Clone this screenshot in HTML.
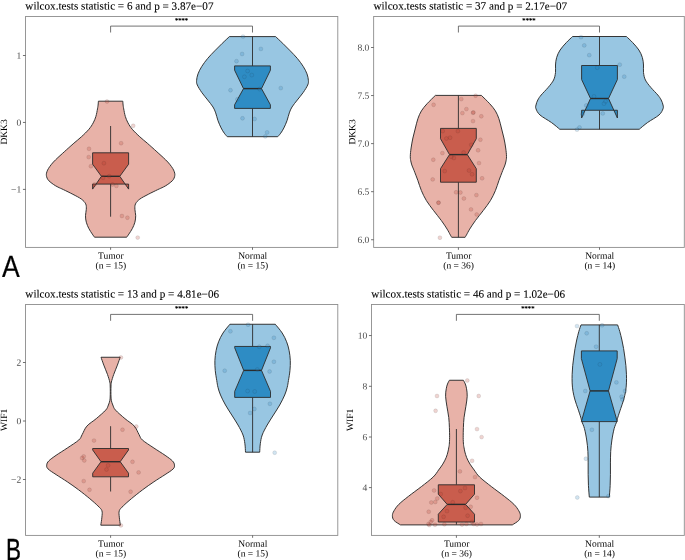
<!DOCTYPE html>
<html lang="en">
<head>
<meta charset="utf-8">
<title>Wilcoxon violin plots: DKK3 and WIF1, Tumor vs Normal</title>
<style>
html,body{margin:0;padding:0;background:#ffffff;}
body{width:685px;height:560px;overflow:hidden;}
svg{display:block;}
svg text{font-family:"Liberation Serif","DejaVu Serif",serif;}
svg text.pl{font-family:"Liberation Sans","DejaVu Sans",sans-serif;text-rendering:geometricPrecision;}
</style>
</head>
<body>
<svg width="685" height="560" viewBox="0 0 685 560">
<defs><filter id="ga" x="0" y="0" width="685" height="560" filterUnits="userSpaceOnUse"><feOffset dx="0" dy="0"/></filter></defs>
<rect x="0" y="0" width="685" height="560" fill="#ffffff"/>
<g filter="url(#ga)">
<text transform="rotate(0.03 25.35 9.55)" x="25.35" y="9.55" font-size="11.15" fill="#000" stroke="#000" stroke-width="0.1">wilcox.tests statistic = 6 and p = 3.87e−07</text>
<rect x="25.55" y="16.45" width="312.25" height="230.95" fill="#fff" stroke="#8c8c8c" stroke-width="0.9"/>
<path d="M22.95 55.5H25.55" stroke="#4d4d4d" stroke-width="0.8"/>
<text transform="rotate(0.03 21.25 58.7)" x="21.25" y="58.7" font-size="9.55" text-anchor="end" fill="#4d4d4d">1</text>
<path d="M22.95 122.45H25.55" stroke="#4d4d4d" stroke-width="0.8"/>
<text transform="rotate(0.03 21.25 125.65)" x="21.25" y="125.65" font-size="9.55" text-anchor="end" fill="#4d4d4d">0</text>
<path d="M22.95 189.4H25.55" stroke="#4d4d4d" stroke-width="0.8"/>
<text transform="rotate(0.03 21.25 192.6)" x="21.25" y="192.6" font-size="9.55" text-anchor="end" fill="#4d4d4d">−1</text>
<path d="M110.6 247.4V249.8" stroke="#4d4d4d" stroke-width="0.8"/>
<text transform="rotate(0.03 110.85 258.7)" x="110.85" y="258.7" font-size="9.5" text-anchor="middle" fill="#000">Tumor</text>
<text transform="rotate(0.03 110.85 268.5)" x="110.85" y="268.5" font-size="9.5" text-anchor="middle" fill="#000">(n = 15)</text>
<path d="M252.5 247.4V249.8" stroke="#4d4d4d" stroke-width="0.8"/>
<text transform="rotate(0.03 252.75 258.7)" x="252.75" y="258.7" font-size="9.5" text-anchor="middle" fill="#000">Normal</text>
<text transform="rotate(0.03 252.75 268.5)" x="252.75" y="268.5" font-size="9.5" text-anchor="middle" fill="#000">(n = 15)</text>
<text transform="translate(7.05 131.93) rotate(-89.97)" font-size="9.5" text-anchor="middle" fill="#000">DKK3</text>
<path d="M110.6 32.5V26.1H252.5V32.5" fill="none" stroke="#444" stroke-width="0.75"/>
<text transform="rotate(0.03 181.55 22.6)" x="181.55" y="22.6" font-size="6.6" text-anchor="middle" fill="#000" stroke="#000" stroke-width="0.25">****</text>
<path d="M98.4 101.2C98.35 101.83 98.25 103.72 98.1 105C97.95 106.28 97.87 107 97.5 108.9C97.13 110.8 96.62 114.07 95.9 116.4C95.18 118.73 94.37 120.75 93.2 122.9C92.03 125.05 90.87 126.98 88.9 129.3C86.93 131.62 83.9 134.48 81.4 136.8C78.9 139.12 76.37 141.05 73.9 143.2C71.43 145.35 68.53 147.97 66.6 149.7C64.67 151.43 63.75 152.28 62.3 153.6C60.85 154.92 59.38 156.19 57.9 157.6C56.42 159.01 54.75 160.57 53.4 162.05C52.05 163.53 50.77 165.16 49.8 166.5C48.83 167.84 48.15 168.98 47.6 170.1C47.05 171.22 46.7 172.32 46.5 173.2C46.3 174.08 46.3 174.58 46.4 175.4C46.5 176.22 46.68 177.2 47.1 178.1C47.52 179 47.85 179.75 48.9 180.8C49.95 181.85 51.9 183.36 53.4 184.4C54.9 185.44 56.2 186.17 57.9 187.05C59.6 187.93 61.1 188.49 63.6 189.7C66.1 190.91 69.93 192.73 72.9 194.3C75.87 195.87 79.27 197.5 81.4 199.1C83.53 200.7 84.88 202.2 85.7 203.9C86.52 205.6 86.33 207.33 86.3 209.3C86.27 211.27 85.5 213.55 85.5 215.7C85.5 217.85 85.73 220.05 86.3 222.2C86.87 224.35 87.92 226.65 88.9 228.6C89.88 230.55 91.27 232.47 92.2 233.9C93.13 235.33 94.12 236.65 94.5 237.2L126.7 237.2C127.08 236.65 128.07 235.33 129 233.9C129.93 232.47 131.32 230.55 132.3 228.6C133.28 226.65 134.33 224.35 134.9 222.2C135.47 220.05 135.7 217.85 135.7 215.7C135.7 213.55 134.93 211.27 134.9 209.3C134.87 207.33 134.68 205.6 135.5 203.9C136.32 202.2 137.67 200.7 139.8 199.1C141.93 197.5 145.33 195.87 148.3 194.3C151.27 192.73 155.1 190.91 157.6 189.7C160.1 188.49 161.6 187.93 163.3 187.05C165 186.17 166.3 185.44 167.8 184.4C169.3 183.36 171.25 181.85 172.3 180.8C173.35 179.75 173.68 179 174.1 178.1C174.52 177.2 174.7 176.22 174.8 175.4C174.9 174.58 174.9 174.08 174.7 173.2C174.5 172.32 174.15 171.22 173.6 170.1C173.05 168.98 172.37 167.84 171.4 166.5C170.43 165.16 169.15 163.53 167.8 162.05C166.45 160.57 164.78 159.01 163.3 157.6C161.82 156.19 160.35 154.92 158.9 153.6C157.45 152.28 156.53 151.43 154.6 149.7C152.67 147.97 149.77 145.35 147.3 143.2C144.83 141.05 142.3 139.12 139.8 136.8C137.3 134.48 134.27 131.62 132.3 129.3C130.33 126.98 129.17 125.05 128 122.9C126.83 120.75 126.02 118.73 125.3 116.4C124.58 114.07 124.07 110.8 123.7 108.9C123.33 107 123.25 106.28 123.1 105C122.95 103.72 122.85 101.83 122.8 101.2Z" fill="#E8B2A8" stroke="#2b2b2b" stroke-width="0.95" stroke-linejoin="miter" stroke-miterlimit="3"/>
<path d="M110.6 126V152.8M110.6 184.1V216.7" stroke="#2b2b2b" stroke-width="0.9" fill="none"/>
<path d="M92.6 152.8L92.6 164.2L101.4 176.3L92.6 189.1L92.6 184.1L128.6 184.1L128.6 189.1L119.8 176.3L128.6 164.2L128.6 152.8Z" fill="#C95D4D" stroke="#2b2b2b" stroke-width="0.9" stroke-linejoin="miter"/>
<path d="M101.4 176.3H119.8" stroke="#2b2b2b" stroke-width="1.4" fill="none"/>
<g fill="#B83C2E" fill-opacity="0.22" stroke="#1a1a1a" stroke-opacity="0.17" stroke-width="0.6">
<circle cx="107" cy="101.5" r="1.95"/>
<circle cx="133.2" cy="125.8" r="1.95"/>
<circle cx="121.1" cy="143.2" r="1.95"/>
<circle cx="89" cy="148.8" r="1.95"/>
<circle cx="88.7" cy="157.1" r="1.95"/>
<circle cx="103.9" cy="163.2" r="1.95"/>
<circle cx="90.9" cy="166.2" r="1.95"/>
<circle cx="103.1" cy="177.8" r="1.95"/>
<circle cx="109.2" cy="176.2" r="1.95"/>
<circle cx="94.5" cy="184.5" r="1.95"/>
<circle cx="112.5" cy="184.5" r="1.95"/>
<circle cx="116.4" cy="185.9" r="1.95"/>
<circle cx="121.9" cy="216" r="1.95"/>
<circle cx="127.4" cy="217.7" r="1.95"/>
<circle cx="137.7" cy="237.6" r="1.95"/>
</g>
<path d="M229.4 36.6C228.2 37.73 224.65 41.02 222.2 43.4C219.75 45.78 217.12 48.4 214.7 50.9C212.28 53.4 209.85 55.82 207.7 58.4C205.55 60.98 203.42 63.82 201.8 66.4C200.18 68.98 198.87 71.57 198 73.9C197.13 76.23 196.72 78.55 196.6 80.4C196.48 82.25 196.43 82.98 197.3 85C198.17 87.02 200.07 90 201.8 92.5C203.53 95 205.83 97.58 207.7 100C209.57 102.42 211.67 104.85 213 107C214.33 109.15 214.88 110.67 215.7 112.9C216.52 115.13 217 117.9 217.9 120.4C218.8 122.9 220.03 125.77 221.1 127.9C222.17 130.03 223.27 131.73 224.3 133.2C225.33 134.67 226.8 136.12 227.3 136.7L277.7 136.7C278.2 136.12 279.67 134.67 280.7 133.2C281.73 131.73 282.83 130.03 283.9 127.9C284.97 125.77 286.2 122.9 287.1 120.4C288 117.9 288.48 115.13 289.3 112.9C290.12 110.67 290.67 109.15 292 107C293.33 104.85 295.43 102.42 297.3 100C299.17 97.58 301.47 95 303.2 92.5C304.93 90 306.83 87.02 307.7 85C308.57 82.98 308.52 82.25 308.4 80.4C308.28 78.55 307.87 76.23 307 73.9C306.13 71.57 304.82 68.98 303.2 66.4C301.58 63.82 299.45 60.98 297.3 58.4C295.15 55.82 292.72 53.4 290.3 50.9C287.88 48.4 285.25 45.78 282.8 43.4C280.35 41.02 276.8 37.73 275.6 36.6Z" fill="#98C6E2" stroke="#2b2b2b" stroke-width="0.95" stroke-linejoin="miter" stroke-miterlimit="3"/>
<path d="M252.5 36.6V65.9M252.5 108.4V136.7" stroke="#2b2b2b" stroke-width="0.9" fill="none"/>
<path d="M234.6 65.9L234.6 70.2L243.5 88.6L234.6 104.8L234.6 108.4L270.4 108.4L270.4 104.8L261.5 88.6L270.4 70.2L270.4 65.9Z" fill="#2E8CC4" stroke="#2b2b2b" stroke-width="0.9" stroke-linejoin="miter"/>
<path d="M243.5 88.6H261.5" stroke="#2b2b2b" stroke-width="1.4" fill="none"/>
<g fill="#2E86BE" fill-opacity="0.22" stroke="#1a1a1a" stroke-opacity="0.17" stroke-width="0.6">
<circle cx="243" cy="36.6" r="1.95"/>
<circle cx="260.9" cy="48.9" r="1.95"/>
<circle cx="242.1" cy="54" r="1.95"/>
<circle cx="236.5" cy="61.2" r="1.95"/>
<circle cx="247.6" cy="71" r="1.95"/>
<circle cx="251.8" cy="75.1" r="1.95"/>
<circle cx="244.4" cy="76.8" r="1.95"/>
<circle cx="230.5" cy="90.2" r="1.95"/>
<circle cx="280.8" cy="88.1" r="1.95"/>
<circle cx="259.7" cy="89.1" r="1.95"/>
<circle cx="237.4" cy="99.3" r="1.95"/>
<circle cx="242.5" cy="118.3" r="1.95"/>
<circle cx="254.6" cy="119" r="1.95"/>
<circle cx="267.1" cy="132.4" r="1.95"/>
<circle cx="265.3" cy="136.4" r="1.95"/>
</g>
<text transform="rotate(0.03 373.45 9.55)" x="373.45" y="9.55" font-size="11.15" fill="#000" stroke="#000" stroke-width="0.1">wilcox.tests statistic = 37 and p = 2.17e−07</text>
<rect x="373.65" y="16.45" width="310.65" height="230.95" fill="#fff" stroke="#8c8c8c" stroke-width="0.9"/>
<path d="M371.05 47.5H373.65" stroke="#4d4d4d" stroke-width="0.8"/>
<text transform="rotate(0.03 369.35 50.7)" x="369.35" y="50.7" font-size="9.55" text-anchor="end" fill="#4d4d4d">8.0</text>
<path d="M371.05 95.56H373.65" stroke="#4d4d4d" stroke-width="0.8"/>
<text transform="rotate(0.03 369.35 98.76)" x="369.35" y="98.76" font-size="9.55" text-anchor="end" fill="#4d4d4d">7.5</text>
<path d="M371.05 143.62H373.65" stroke="#4d4d4d" stroke-width="0.8"/>
<text transform="rotate(0.03 369.35 146.82)" x="369.35" y="146.82" font-size="9.55" text-anchor="end" fill="#4d4d4d">7.0</text>
<path d="M371.05 191.68H373.65" stroke="#4d4d4d" stroke-width="0.8"/>
<text transform="rotate(0.03 369.35 194.88)" x="369.35" y="194.88" font-size="9.55" text-anchor="end" fill="#4d4d4d">6.5</text>
<path d="M371.05 239.74H373.65" stroke="#4d4d4d" stroke-width="0.8"/>
<text transform="rotate(0.03 369.35 242.94)" x="369.35" y="242.94" font-size="9.55" text-anchor="end" fill="#4d4d4d">6.0</text>
<path d="M458.4 247.4V249.8" stroke="#4d4d4d" stroke-width="0.8"/>
<text transform="rotate(0.03 458.65 258.7)" x="458.65" y="258.7" font-size="9.5" text-anchor="middle" fill="#000">Tumor</text>
<text transform="rotate(0.03 458.65 268.5)" x="458.65" y="268.5" font-size="9.5" text-anchor="middle" fill="#000">(n = 36)</text>
<path d="M599.5 247.4V249.8" stroke="#4d4d4d" stroke-width="0.8"/>
<text transform="rotate(0.03 599.75 258.7)" x="599.75" y="258.7" font-size="9.5" text-anchor="middle" fill="#000">Normal</text>
<text transform="rotate(0.03 599.75 268.5)" x="599.75" y="268.5" font-size="9.5" text-anchor="middle" fill="#000">(n = 14)</text>
<text transform="translate(355.15 131.93) rotate(-89.97)" font-size="9.5" text-anchor="middle" fill="#000">DKK3</text>
<path d="M458.4 32.5V26.1H599.5V32.5" fill="none" stroke="#444" stroke-width="0.75"/>
<text transform="rotate(0.03 528.95 22.6)" x="528.95" y="22.6" font-size="6.6" text-anchor="middle" fill="#000" stroke="#000" stroke-width="0.25">****</text>
<path d="M435.4 95.4C434.02 96.78 429.43 101.12 427.1 103.7C424.77 106.28 422.93 108.4 421.4 110.9C419.87 113.4 418.9 115.85 417.9 118.7C416.9 121.55 416.23 124.78 415.4 128C414.57 131.22 413.62 134.67 412.9 138C412.18 141.33 411.53 144.9 411.1 148C410.67 151.1 410.32 154.27 410.3 156.6C410.28 158.93 410.68 160.43 411 162C411.32 163.57 411.68 164.57 412.2 166C412.72 167.43 413.15 168.17 414.1 170.6C415.05 173.03 416.68 177.27 417.9 180.6C419.12 183.93 419.98 187.27 421.4 190.6C422.82 193.93 424.37 197.27 426.4 200.6C428.43 203.93 431.1 207.27 433.6 210.6C436.1 213.93 439.15 217.52 441.4 220.6C443.65 223.68 445.62 226.72 447.1 229.1C448.58 231.48 449.53 233.53 450.3 234.9C451.07 236.27 451.47 236.9 451.7 237.3L465.1 237.3C465.33 236.9 465.73 236.27 466.5 234.9C467.27 233.53 468.22 231.48 469.7 229.1C471.18 226.72 473.15 223.68 475.4 220.6C477.65 217.52 480.7 213.93 483.2 210.6C485.7 207.27 488.37 203.93 490.4 200.6C492.43 197.27 493.98 193.93 495.4 190.6C496.82 187.27 497.68 183.93 498.9 180.6C500.12 177.27 501.75 173.03 502.7 170.6C503.65 168.17 504.08 167.43 504.6 166C505.12 164.57 505.48 163.57 505.8 162C506.12 160.43 506.52 158.93 506.5 156.6C506.48 154.27 506.13 151.1 505.7 148C505.27 144.9 504.62 141.33 503.9 138C503.18 134.67 502.23 131.22 501.4 128C500.57 124.78 499.9 121.55 498.9 118.7C497.9 115.85 496.93 113.4 495.4 110.9C493.87 108.4 492.03 106.28 489.7 103.7C487.37 101.12 482.78 96.78 481.4 95.4Z" fill="#E8B2A8" stroke="#2b2b2b" stroke-width="0.95" stroke-linejoin="miter" stroke-miterlimit="3"/>
<path d="M458.4 95.4V128.4M458.4 182.2V237.3" stroke="#2b2b2b" stroke-width="0.9" fill="none"/>
<path d="M440.5 128.4L440.5 138.7L449.5 154.6L440.5 168.7L440.5 182.2L476.3 182.2L476.3 168.7L467.3 154.6L476.3 138.7L476.3 128.4Z" fill="#C95D4D" stroke="#2b2b2b" stroke-width="0.9" stroke-linejoin="miter"/>
<path d="M449.5 154.6H467.3" stroke="#2b2b2b" stroke-width="1.4" fill="none"/>
<g fill="#B83C2E" fill-opacity="0.22" stroke="#1a1a1a" stroke-opacity="0.17" stroke-width="0.6">
<circle cx="475.6" cy="95.7" r="1.95"/>
<circle cx="461.3" cy="99.1" r="1.95"/>
<circle cx="433.6" cy="104.8" r="1.95"/>
<circle cx="466.4" cy="109.1" r="1.95"/>
<circle cx="462.4" cy="113.1" r="1.95"/>
<circle cx="473" cy="112.8" r="1.95"/>
<circle cx="473.4" cy="112.4" r="1.95"/>
<circle cx="481.3" cy="116.3" r="1.95"/>
<circle cx="473" cy="121.1" r="1.95"/>
<circle cx="442.7" cy="131.1" r="1.95"/>
<circle cx="457.9" cy="131.1" r="1.95"/>
<circle cx="446.4" cy="138.5" r="1.95"/>
<circle cx="450.1" cy="137.7" r="1.95"/>
<circle cx="480.4" cy="139.7" r="1.95"/>
<circle cx="471.3" cy="144.8" r="1.95"/>
<circle cx="478.1" cy="150.3" r="1.95"/>
<circle cx="463.6" cy="152.5" r="1.95"/>
<circle cx="442.4" cy="153.1" r="1.95"/>
<circle cx="451.3" cy="156.8" r="1.95"/>
<circle cx="453.9" cy="158" r="1.95"/>
<circle cx="433.3" cy="159.7" r="1.95"/>
<circle cx="479" cy="163.1" r="1.95"/>
<circle cx="444.7" cy="171.1" r="1.95"/>
<circle cx="469" cy="170.5" r="1.95"/>
<circle cx="472.1" cy="174.3" r="1.95"/>
<circle cx="482.1" cy="178.3" r="1.95"/>
<circle cx="432.7" cy="179.4" r="1.95"/>
<circle cx="456.1" cy="192.3" r="1.95"/>
<circle cx="460.4" cy="192.5" r="1.95"/>
<circle cx="476.4" cy="195.1" r="1.95"/>
<circle cx="463.9" cy="198.5" r="1.95"/>
<circle cx="438.4" cy="202.8" r="1.95"/>
<circle cx="438.6" cy="202.6" r="1.95"/>
<circle cx="471" cy="209.4" r="1.95"/>
<circle cx="476.7" cy="214.5" r="1.95"/>
<circle cx="439.9" cy="237.7" r="1.95"/>
</g>
<path d="M572.6 36.5C571.57 37.5 568.48 40.25 566.4 42.5C564.32 44.75 561.73 47.5 560.1 50C558.48 52.5 557.42 55 556.65 57.5C555.88 60 555.69 62.5 555.5 65C555.31 67.5 555.82 70 555.5 72.5C555.18 75 554.83 77.5 553.6 80C552.37 82.5 550.17 85 548.1 87.5C546.03 90 542.92 92.92 541.2 95C539.48 97.08 538.67 98.33 537.8 100C536.93 101.67 536.3 103.53 536 105C535.7 106.47 535.33 107.13 536 108.8C536.67 110.47 537.43 112.72 540 115C542.57 117.28 548.11 120.12 551.4 122.5C554.69 124.88 558.36 128.12 559.75 129.25L639.25 129.25C640.64 128.12 644.31 124.88 647.6 122.5C650.89 120.12 656.43 117.28 659 115C661.57 112.72 662.33 110.47 663 108.8C663.67 107.13 663.3 106.47 663 105C662.7 103.53 662.07 101.67 661.2 100C660.33 98.33 659.52 97.08 657.8 95C656.08 92.92 652.97 90 650.9 87.5C648.83 85 646.63 82.5 645.4 80C644.17 77.5 643.82 75 643.5 72.5C643.18 70 643.69 67.5 643.5 65C643.31 62.5 643.12 60 642.35 57.5C641.58 55 640.52 52.5 638.9 50C637.27 47.5 634.68 44.75 632.6 42.5C630.52 40.25 627.43 37.5 626.4 36.5Z" fill="#98C6E2" stroke="#2b2b2b" stroke-width="0.95" stroke-linejoin="miter" stroke-miterlimit="3"/>
<path d="M599.5 36.5V65.5M599.5 110.25V129.25" stroke="#2b2b2b" stroke-width="0.9" fill="none"/>
<path d="M581.6 65.5L581.6 79.5L590.5 98.5L581.6 118L581.6 110.25L617.4 110.25L617.4 118L608.5 98.5L617.4 79.5L617.4 65.5Z" fill="#2E8CC4" stroke="#2b2b2b" stroke-width="0.9" stroke-linejoin="miter"/>
<path d="M590.5 98.5H608.5" stroke="#2b2b2b" stroke-width="1.4" fill="none"/>
<g fill="#2E86BE" fill-opacity="0.22" stroke="#1a1a1a" stroke-opacity="0.17" stroke-width="0.6">
<circle cx="581" cy="37.15" r="1.95"/>
<circle cx="584.25" cy="45.4" r="1.95"/>
<circle cx="589.25" cy="55.15" r="1.95"/>
<circle cx="619.75" cy="64.65" r="1.95"/>
<circle cx="597.25" cy="67.65" r="1.95"/>
<circle cx="624.25" cy="76.65" r="1.95"/>
<circle cx="594" cy="96.4" r="1.95"/>
<circle cx="605.5" cy="101.4" r="1.95"/>
<circle cx="604" cy="103.65" r="1.95"/>
<circle cx="586.25" cy="105.4" r="1.95"/>
<circle cx="602.75" cy="113.4" r="1.95"/>
<circle cx="582.5" cy="114.15" r="1.95"/>
<circle cx="579.5" cy="127.4" r="1.95"/>
<circle cx="577" cy="129.65" r="1.95"/>
</g>
<text transform="rotate(0.03 25.35 297.55)" x="25.35" y="297.55" font-size="11.15" fill="#000" stroke="#000" stroke-width="0.1">wilcox.tests statistic = 13 and p = 4.81e−06</text>
<rect x="25.55" y="304.45" width="312.25" height="230.95" fill="#fff" stroke="#8c8c8c" stroke-width="0.9"/>
<path d="M22.95 362.5H25.55" stroke="#4d4d4d" stroke-width="0.8"/>
<text transform="rotate(0.03 21.25 365.7)" x="21.25" y="365.7" font-size="9.55" text-anchor="end" fill="#4d4d4d">2</text>
<path d="M22.95 421H25.55" stroke="#4d4d4d" stroke-width="0.8"/>
<text transform="rotate(0.03 21.25 424.2)" x="21.25" y="424.2" font-size="9.55" text-anchor="end" fill="#4d4d4d">0</text>
<path d="M22.95 479.5H25.55" stroke="#4d4d4d" stroke-width="0.8"/>
<text transform="rotate(0.03 21.25 482.7)" x="21.25" y="482.7" font-size="9.55" text-anchor="end" fill="#4d4d4d">−2</text>
<path d="M110.6 535.4V537.8" stroke="#4d4d4d" stroke-width="0.8"/>
<text transform="rotate(0.03 110.85 546.7)" x="110.85" y="546.7" font-size="9.5" text-anchor="middle" fill="#000">Tumor</text>
<text transform="rotate(0.03 110.85 556.5)" x="110.85" y="556.5" font-size="9.5" text-anchor="middle" fill="#000">(n = 15)</text>
<path d="M252.6 535.4V537.8" stroke="#4d4d4d" stroke-width="0.8"/>
<text transform="rotate(0.03 252.85 546.7)" x="252.85" y="546.7" font-size="9.5" text-anchor="middle" fill="#000">Normal</text>
<text transform="rotate(0.03 252.85 556.5)" x="252.85" y="556.5" font-size="9.5" text-anchor="middle" fill="#000">(n = 15)</text>
<text transform="translate(7.05 419.92) rotate(-89.97)" font-size="9.5" text-anchor="middle" fill="#000">WIF1</text>
<path d="M110.6 320.8V314.4H252.6V320.8" fill="none" stroke="#444" stroke-width="0.75"/>
<text transform="rotate(0.03 181.6 310.5)" x="181.6" y="310.5" font-size="6.6" text-anchor="middle" fill="#000" stroke="#000" stroke-width="0.25">****</text>
<path d="M101 357.25C101.47 358.56 102.72 362.23 103.8 365.1C104.88 367.98 106.5 371.68 107.5 374.5C108.5 377.32 109.35 380.08 109.8 382C110.25 383.92 110.12 384.38 110.2 386C110.28 387.62 110.3 389.87 110.3 391.7C110.3 393.53 110.28 395.49 110.2 397C110.12 398.51 110.1 399.42 109.8 400.75C109.5 402.08 109.08 403.44 108.4 405C107.72 406.56 107.72 407.83 105.7 410.1C103.68 412.37 99.43 415.93 96.3 418.6C93.17 421.27 89.25 423.45 86.9 426.1C84.55 428.75 83.55 432.18 82.2 434.5C80.85 436.82 81.28 437.75 78.8 440C76.32 442.25 71.08 445.45 67.3 448C63.52 450.55 59.18 453.15 56.1 455.3C53.02 457.45 50.36 459.3 48.8 460.9C47.24 462.5 46.88 463.57 46.75 464.9C46.62 466.23 46.44 467.28 48 468.9C49.56 470.52 52.88 472.45 56.1 474.6C59.32 476.75 63.55 479.27 67.3 481.8C71.05 484.33 74.85 486.98 78.6 489.8C82.35 492.62 86.58 496.02 89.8 498.7C93.02 501.38 95.88 503.9 97.9 505.9C99.92 507.9 101.23 508.82 101.9 510.7C102.57 512.58 102.08 514.78 101.9 517.2C101.72 519.62 100.98 523.87 100.8 525.2L120.4 525.2C120.22 523.87 119.48 519.62 119.3 517.2C119.12 514.78 118.63 512.58 119.3 510.7C119.97 508.82 121.28 507.9 123.3 505.9C125.32 503.9 128.18 501.38 131.4 498.7C134.62 496.02 138.85 492.62 142.6 489.8C146.35 486.98 150.15 484.33 153.9 481.8C157.65 479.27 161.88 476.75 165.1 474.6C168.32 472.45 171.64 470.52 173.2 468.9C174.76 467.28 174.58 466.23 174.45 464.9C174.32 463.57 173.96 462.5 172.4 460.9C170.84 459.3 168.18 457.45 165.1 455.3C162.02 453.15 157.68 450.55 153.9 448C150.12 445.45 144.88 442.25 142.4 440C139.92 437.75 140.35 436.82 139 434.5C137.65 432.18 136.65 428.75 134.3 426.1C131.95 423.45 128.03 421.27 124.9 418.6C121.77 415.93 117.52 412.37 115.5 410.1C113.48 407.83 113.48 406.56 112.8 405C112.12 403.44 111.7 402.08 111.4 400.75C111.1 399.42 111.08 398.51 111 397C110.92 395.49 110.9 393.53 110.9 391.7C110.9 389.87 110.92 387.62 111 386C111.08 384.38 110.95 383.92 111.4 382C111.85 380.08 112.7 377.32 113.7 374.5C114.7 371.68 116.32 367.98 117.4 365.1C118.48 362.23 119.73 358.56 120.2 357.25Z" fill="#E8B2A8" stroke="#2b2b2b" stroke-width="0.95" stroke-linejoin="miter" stroke-miterlimit="3"/>
<path d="M110.6 426.2V448.5M110.6 476.8V491.5" stroke="#2b2b2b" stroke-width="0.9" fill="none"/>
<path d="M92.7 448.5L92.7 450L101 461.7L92.7 473.2L92.7 476.8L128.5 476.8L128.5 473.2L120.2 461.7L128.5 450L128.5 448.5Z" fill="#C95D4D" stroke="#2b2b2b" stroke-width="0.9" stroke-linejoin="miter"/>
<path d="M101 461.7H120.2" stroke="#2b2b2b" stroke-width="1.4" fill="none"/>
<g fill="#B83C2E" fill-opacity="0.22" stroke="#1a1a1a" stroke-opacity="0.17" stroke-width="0.6">
<circle cx="120.9" cy="357.5" r="1.95"/>
<circle cx="136.3" cy="426.5" r="1.95"/>
<circle cx="122.5" cy="429.7" r="1.95"/>
<circle cx="94" cy="440.6" r="1.95"/>
<circle cx="83.7" cy="456.4" r="1.95"/>
<circle cx="82.1" cy="458" r="1.95"/>
<circle cx="84.3" cy="460.5" r="1.95"/>
<circle cx="132.5" cy="461.8" r="1.95"/>
<circle cx="108.1" cy="465.4" r="1.95"/>
<circle cx="106.5" cy="469.5" r="1.95"/>
<circle cx="138.6" cy="472.4" r="1.95"/>
<circle cx="83.7" cy="481.1" r="1.95"/>
<circle cx="89.5" cy="489.8" r="1.95"/>
<circle cx="130.6" cy="491.7" r="1.95"/>
<circle cx="120.9" cy="525.4" r="1.95"/>
</g>
<path d="M229.9 324.25C228.75 325.71 224.88 330.08 223 333C221.12 335.92 219.75 338.83 218.6 341.75C217.45 344.67 216.72 347.38 216.1 350.5C215.48 353.62 215.04 357.17 214.9 360.5C214.76 363.83 214.94 367.17 215.25 370.5C215.56 373.83 216.29 377.68 216.75 380.5C217.21 383.32 217.38 384.98 218 387.4C218.62 389.82 219.25 392.07 220.5 395C221.75 397.93 223.62 401.67 225.5 405C227.38 408.33 229.67 411.67 231.75 415C233.83 418.33 236.12 421.67 238 425C239.88 428.33 241.85 431.88 243 435C244.15 438.12 244.48 440.88 244.9 443.75C245.32 446.62 245.4 450.79 245.5 452.2L259.7 452.2C259.8 450.79 259.88 446.62 260.3 443.75C260.72 440.88 261.05 438.12 262.2 435C263.35 431.88 265.32 428.33 267.2 425C269.07 421.67 271.37 418.33 273.45 415C275.53 411.67 277.82 408.33 279.7 405C281.57 401.67 283.45 397.93 284.7 395C285.95 392.07 286.57 389.82 287.2 387.4C287.82 384.98 287.99 383.32 288.45 380.5C288.91 377.68 289.64 373.83 289.95 370.5C290.26 367.17 290.44 363.83 290.3 360.5C290.16 357.17 289.72 353.62 289.1 350.5C288.48 347.38 287.75 344.67 286.6 341.75C285.45 338.83 284.08 335.92 282.2 333C280.32 330.08 276.45 325.71 275.3 324.25Z" fill="#98C6E2" stroke="#2b2b2b" stroke-width="0.95" stroke-linejoin="miter" stroke-miterlimit="3"/>
<path d="M252.6 324.25V346.45M252.6 397.4V452.2" stroke="#2b2b2b" stroke-width="0.9" fill="none"/>
<path d="M234.7 346.45L234.7 347.8L243.7 370.4L234.7 391.4L234.7 397.4L270.5 397.4L270.5 391.4L261.5 370.4L270.5 347.8L270.5 346.45Z" fill="#2E8CC4" stroke="#2b2b2b" stroke-width="0.9" stroke-linejoin="miter"/>
<path d="M243.7 370.4H261.5" stroke="#2b2b2b" stroke-width="1.4" fill="none"/>
<g fill="#2E86BE" fill-opacity="0.22" stroke="#1a1a1a" stroke-opacity="0.17" stroke-width="0.6">
<circle cx="248.1" cy="324.7" r="1.95"/>
<circle cx="230.4" cy="331.3" r="1.95"/>
<circle cx="273.9" cy="337.8" r="1.95"/>
<circle cx="259.3" cy="346.7" r="1.95"/>
<circle cx="267.6" cy="345.8" r="1.95"/>
<circle cx="273.9" cy="361.8" r="1.95"/>
<circle cx="224.7" cy="370.7" r="1.95"/>
<circle cx="257.3" cy="369.5" r="1.95"/>
<circle cx="269.6" cy="371.5" r="1.95"/>
<circle cx="247.6" cy="391" r="1.95"/>
<circle cx="254.7" cy="391.5" r="1.95"/>
<circle cx="269.9" cy="403.8" r="1.95"/>
<circle cx="254.4" cy="409" r="1.95"/>
<circle cx="250.1" cy="413" r="1.95"/>
<circle cx="274.7" cy="452.7" r="1.95"/>
</g>
<text transform="rotate(0.03 371.35 297.55)" x="371.35" y="297.55" font-size="11.15" fill="#000" stroke="#000" stroke-width="0.1">wilcox.tests statistic = 46 and p = 1.02e−06</text>
<rect x="371.55" y="304.45" width="312.75" height="230.95" fill="#fff" stroke="#8c8c8c" stroke-width="0.9"/>
<path d="M368.95 335.55H371.55" stroke="#4d4d4d" stroke-width="0.8"/>
<text transform="rotate(0.03 367.25 338.75)" x="367.25" y="338.75" font-size="9.55" text-anchor="end" fill="#4d4d4d">10</text>
<path d="M368.95 386.3H371.55" stroke="#4d4d4d" stroke-width="0.8"/>
<text transform="rotate(0.03 367.25 389.5)" x="367.25" y="389.5" font-size="9.55" text-anchor="end" fill="#4d4d4d">8</text>
<path d="M368.95 437H371.55" stroke="#4d4d4d" stroke-width="0.8"/>
<text transform="rotate(0.03 367.25 440.2)" x="367.25" y="440.2" font-size="9.55" text-anchor="end" fill="#4d4d4d">6</text>
<path d="M368.95 487.6H371.55" stroke="#4d4d4d" stroke-width="0.8"/>
<text transform="rotate(0.03 367.25 490.8)" x="367.25" y="490.8" font-size="9.55" text-anchor="end" fill="#4d4d4d">4</text>
<path d="M456.4 535.4V537.8" stroke="#4d4d4d" stroke-width="0.8"/>
<text transform="rotate(0.03 456.65 546.7)" x="456.65" y="546.7" font-size="9.5" text-anchor="middle" fill="#000">Tumor</text>
<text transform="rotate(0.03 456.65 556.5)" x="456.65" y="556.5" font-size="9.5" text-anchor="middle" fill="#000">(n = 36)</text>
<path d="M599.3 535.4V537.8" stroke="#4d4d4d" stroke-width="0.8"/>
<text transform="rotate(0.03 599.55 546.7)" x="599.55" y="546.7" font-size="9.5" text-anchor="middle" fill="#000">Normal</text>
<text transform="rotate(0.03 599.55 556.5)" x="599.55" y="556.5" font-size="9.5" text-anchor="middle" fill="#000">(n = 14)</text>
<text transform="translate(353.05 419.92) rotate(-89.97)" font-size="9.5" text-anchor="middle" fill="#000">WIF1</text>
<path d="M456.4 320.8V314.4H599.3V320.8" fill="none" stroke="#444" stroke-width="0.75"/>
<text transform="rotate(0.03 527.85 310.5)" x="527.85" y="310.5" font-size="6.6" text-anchor="middle" fill="#000" stroke="#000" stroke-width="0.25">****</text>
<path d="M449.4 380.25C449.08 380.88 448.02 382.58 447.5 384C446.98 385.42 446.57 386.71 446.25 388.75C445.93 390.79 445.49 393.33 445.6 396.25C445.71 399.17 446.38 402.71 446.9 406.25C447.42 409.79 448.33 413.96 448.75 417.5C449.17 421.04 449.26 424.17 449.4 427.5C449.54 430.83 449.62 434.68 449.6 437.5C449.58 440.32 449.45 442.65 449.3 444.4C449.15 446.15 448.93 446.73 448.7 448C448.47 449.27 448.33 450.38 447.9 452C447.47 453.62 446.95 455.68 446.1 457.7C445.25 459.72 444.05 462.05 442.8 464.1C441.55 466.15 440.2 467.85 438.6 470C437 472.15 436.07 474.23 433.2 477C430.33 479.77 425.52 483.38 421.4 486.6C417.28 489.82 412.25 493.35 408.5 496.3C404.75 499.25 401.32 501.88 398.9 504.3C396.48 506.72 395.08 508.92 394 510.8C392.92 512.68 392.4 514 392.4 515.6C392.4 517.2 392.65 518.85 394 520.4C395.35 521.95 399.42 524.15 400.5 524.9L512.3 524.9C513.38 524.15 517.45 521.95 518.8 520.4C520.15 518.85 520.4 517.2 520.4 515.6C520.4 514 519.88 512.68 518.8 510.8C517.72 508.92 516.32 506.72 513.9 504.3C511.48 501.88 508.05 499.25 504.3 496.3C500.55 493.35 495.52 489.82 491.4 486.6C487.28 483.38 482.47 479.77 479.6 477C476.73 474.23 475.8 472.15 474.2 470C472.6 467.85 471.25 466.15 470 464.1C468.75 462.05 467.55 459.72 466.7 457.7C465.85 455.68 465.33 453.62 464.9 452C464.47 450.38 464.33 449.27 464.1 448C463.87 446.73 463.65 446.15 463.5 444.4C463.35 442.65 463.22 440.32 463.2 437.5C463.18 434.68 463.26 430.83 463.4 427.5C463.54 424.17 463.63 421.04 464.05 417.5C464.47 413.96 465.38 409.79 465.9 406.25C466.42 402.71 467.09 399.17 467.2 396.25C467.31 393.33 466.87 390.79 466.55 388.75C466.23 386.71 465.82 385.42 465.3 384C464.77 382.58 463.72 380.88 463.4 380.25Z" fill="#E8B2A8" stroke="#2b2b2b" stroke-width="0.95" stroke-linejoin="miter" stroke-miterlimit="3"/>
<path d="M456.4 429V484.8M456.4 522V524.6" stroke="#2b2b2b" stroke-width="0.9" fill="none"/>
<path d="M438.3 484.8L438.3 494.2L447.2 504.4L438.3 514.2L438.3 522L474.5 522L474.5 514.2L465.6 504.4L474.5 494.2L474.5 484.8Z" fill="#C95D4D" stroke="#2b2b2b" stroke-width="0.9" stroke-linejoin="miter"/>
<path d="M447.2 504.4H465.6" stroke="#2b2b2b" stroke-width="1.4" fill="none"/>
<g fill="#B83C2E" fill-opacity="0.22" stroke="#1a1a1a" stroke-opacity="0.17" stroke-width="0.6">
<circle cx="467.3" cy="380.5" r="1.95"/>
<circle cx="437" cy="396" r="1.95"/>
<circle cx="478.7" cy="396" r="1.95"/>
<circle cx="435.6" cy="410.8" r="1.95"/>
<circle cx="477" cy="429.1" r="1.95"/>
<circle cx="481.6" cy="437.1" r="1.95"/>
<circle cx="472.1" cy="460.8" r="1.95"/>
<circle cx="459.9" cy="471.4" r="1.95"/>
<circle cx="475" cy="477.1" r="1.95"/>
<circle cx="434.1" cy="490.5" r="1.95"/>
<circle cx="465" cy="488" r="1.95"/>
<circle cx="460.4" cy="491.1" r="1.95"/>
<circle cx="440.7" cy="494" r="1.95"/>
<circle cx="437.3" cy="498.5" r="1.95"/>
<circle cx="477" cy="497.7" r="1.95"/>
<circle cx="431.3" cy="502.5" r="1.95"/>
<circle cx="435.3" cy="502" r="1.95"/>
<circle cx="452.7" cy="502.3" r="1.95"/>
<circle cx="470.7" cy="506.8" r="1.95"/>
<circle cx="465.6" cy="507.7" r="1.95"/>
<circle cx="428.7" cy="511.7" r="1.95"/>
<circle cx="447" cy="511.1" r="1.95"/>
<circle cx="443.6" cy="516.8" r="1.95"/>
<circle cx="467.6" cy="515.7" r="1.95"/>
<circle cx="432.1" cy="520.3" r="1.95"/>
<circle cx="430.7" cy="522" r="1.95"/>
<circle cx="429.3" cy="525.1" r="1.95"/>
<circle cx="435" cy="524.8" r="1.95"/>
<circle cx="444.4" cy="524.3" r="1.95"/>
<circle cx="466.4" cy="524" r="1.95"/>
<circle cx="472.1" cy="522" r="1.95"/>
<circle cx="473.6" cy="524" r="1.95"/>
<circle cx="477" cy="524.5" r="1.95"/>
<circle cx="481" cy="524" r="1.95"/>
<circle cx="428.4" cy="524" r="1.95"/>
<circle cx="462" cy="524.6" r="1.95"/>
</g>
<path d="M581 324.9C580.64 325.98 579.57 328.88 578.85 331.4C578.13 333.92 577.34 337.13 576.7 340C576.06 342.87 575.49 345.75 575 348.6C574.51 351.45 574.13 354.25 573.75 357.1C573.37 359.95 572.97 362.83 572.7 365.7C572.43 368.57 572.24 371.43 572.15 374.3C572.06 377.17 572.01 380.05 572.15 382.9C572.29 385.75 572.52 388.55 573 391.4C573.48 394.25 574.18 397.13 575 400C575.82 402.87 576.95 405.75 577.9 408.6C578.85 411.45 580.05 414.97 580.7 417.1C581.35 419.23 581.17 419.48 581.8 421.4C582.42 423.32 583.63 425.5 584.45 428.6C585.27 431.7 586.12 436.2 586.7 440C587.28 443.8 587.66 447.58 587.9 451.4C588.14 455.22 588.11 459.08 588.15 462.9C588.19 466.72 588.1 470.5 588.15 474.3C588.2 478.1 588.26 481.9 588.45 485.7C588.64 489.5 589.16 495.2 589.3 497.1L609.3 497.1C609.44 495.2 609.96 489.5 610.15 485.7C610.34 481.9 610.4 478.1 610.45 474.3C610.5 470.5 610.41 466.72 610.45 462.9C610.49 459.08 610.46 455.22 610.7 451.4C610.94 447.58 611.32 443.8 611.9 440C612.47 436.2 613.33 431.7 614.15 428.6C614.97 425.5 616.17 423.32 616.8 421.4C617.42 419.48 617.25 419.23 617.9 417.1C618.55 414.97 619.75 411.45 620.7 408.6C621.65 405.75 622.78 402.87 623.6 400C624.42 397.13 625.12 394.25 625.6 391.4C626.07 388.55 626.31 385.75 626.45 382.9C626.59 380.05 626.54 377.17 626.45 374.3C626.36 371.43 626.17 368.57 625.9 365.7C625.63 362.83 625.23 359.95 624.85 357.1C624.47 354.25 624.09 351.45 623.6 348.6C623.11 345.75 622.54 342.87 621.9 340C621.26 337.13 620.47 333.92 619.75 331.4C619.03 328.88 617.96 325.98 617.6 324.9Z" fill="#98C6E2" stroke="#2b2b2b" stroke-width="0.95" stroke-linejoin="miter" stroke-miterlimit="3"/>
<path d="M599.3 324.9V350.9M599.3 421.6V497.1" stroke="#2b2b2b" stroke-width="0.9" fill="none"/>
<path d="M581.4 350.9L581.4 358.6L590.1 390.9L581.4 421.4L581.4 421.6L617.2 421.6L617.2 421.4L608.5 390.9L617.2 358.6L617.2 350.9Z" fill="#2E8CC4" stroke="#2b2b2b" stroke-width="0.9" stroke-linejoin="miter"/>
<path d="M590.1 390.9H608.5" stroke="#2b2b2b" stroke-width="1.4" fill="none"/>
<g fill="#2E86BE" fill-opacity="0.22" stroke="#1a1a1a" stroke-opacity="0.17" stroke-width="0.6">
<circle cx="577" cy="326.1" r="1.95"/>
<circle cx="602.1" cy="325.3" r="1.95"/>
<circle cx="586.7" cy="333.3" r="1.95"/>
<circle cx="596.1" cy="346.7" r="1.95"/>
<circle cx="599.9" cy="364.4" r="1.95"/>
<circle cx="616.4" cy="382.4" r="1.95"/>
<circle cx="585.3" cy="391" r="1.95"/>
<circle cx="625" cy="391" r="1.95"/>
<circle cx="621.6" cy="396.7" r="1.95"/>
<circle cx="622.4" cy="399.5" r="1.95"/>
<circle cx="591.9" cy="429.8" r="1.95"/>
<circle cx="585.9" cy="458.7" r="1.95"/>
<circle cx="577.3" cy="497.5" r="1.95"/>
<circle cx="608.4" cy="496.1" r="1.95"/>
</g>
<text class="pl" transform="translate(2.1 277) scale(0.87 1)" font-size="30.6" fill="#000" stroke="#000" stroke-width="0.2">A</text>
<text class="pl" transform="translate(6.0 560) scale(0.735 1)" font-size="30.6" fill="#000" stroke="#000" stroke-width="0.3">B</text>
</g>
</svg>
</body>
</html>
